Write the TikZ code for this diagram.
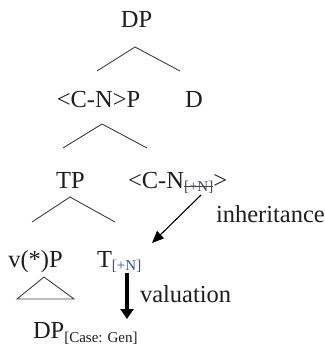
\documentclass[tikz,border=0pt]{standalone}
\usepackage{fontspec}
\setmainfont{Liberation Serif}
\usetikzlibrary{arrows.meta}
\definecolor{ink}{RGB}{30,30,30}
\definecolor{featblue}{RGB}{45,85,165}
\definecolor{strkgray}{RGB}{70,70,80}
\newsavebox\strkbox
\newcommand\strk[1]{\sbox\strkbox{#1}\rlap{\usebox\strkbox}\rule[0.33em]{\wd\strkbox}{0.07em}}
\newcommand\subf[1]{\raisebox{-3.5pt}{\fontsize{15}{18}\selectfont #1}}
\begin{document}
\begin{tikzpicture}[x=1pt,y=-1pt,
  lab/.style={inner sep=0pt,outer sep=0pt,text=ink,font=\fontsize{24.5}{29}\selectfont},
  branch/.style={draw=ink!85,line width=0.9pt},
  thinarrow/.style={draw=black,line width=1.1pt,-{Triangle[length=12pt,width=10pt]}},
  thickarrow/.style={draw=black,line width=4pt,-{Triangle[length=10pt,width=13pt]}}]
\useasboundingbox (0,0) rectangle (324,345);
% labels
\node[lab,anchor=base] (dp) at (136.5,28) {DP};
\node[lab,anchor=base] (cnp) at (98.5,107) {<C-N>P};
\node[lab,anchor=base] (d) at (194,107) {D};
\node[lab,anchor=base] (tp) at (70.5,188) {TP};
\node[lab,anchor=base west] (cn) at (128,188) {<C-N{\color{strkgray}\subf{\strk{[+N]}}}>};
\node[lab,anchor=base] (vp) at (35.5,267) {v(*)P};
\node[lab,anchor=base west] (t) at (97,267) {T{\color{featblue}\subf{[+N]}}};
\node[lab,anchor=base west] (dpgen) at (33,338.5) {DP\subf{[Case: Gen]}};
\node[lab,anchor=base west] (inh) at (216,222) {inheritance};
\node[lab,anchor=base west] (val) at (140,302) {valuation};
% branch points
\coordinate (a1) at (135,47);
\coordinate (l1) at (97,71);
\coordinate (r1) at (180,71);
\coordinate (a2) at (102,124);
\coordinate (l2) at (63,148);
\coordinate (r2) at (147,148);
\coordinate (a3) at (70,197);
\coordinate (l3) at (32,222);
\coordinate (r3) at (115,222);
\draw[branch] (l1) -- (a1) -- (r1);
\draw[branch] (l2) -- (a2) -- (r2);
\draw[branch] (l3) -- (a3) -- (r3);
% triangle under v(*)P
\coordinate (ta) at (44,277);
\coordinate (tl) at (17,299);
\coordinate (tr) at (74,299);
\draw[branch] (ta) -- (tl) -- (tr) -- cycle;
% arrows
\coordinate (inhs) at (201,195);
\coordinate (inhe) at (152,243);
\draw[thinarrow] (inhs) -- (inhe);
\coordinate (vals) at (127,273);
\coordinate (vale) at (127,319);
\draw[thickarrow] (vals) -- (vale);
\end{tikzpicture}
\end{document}
